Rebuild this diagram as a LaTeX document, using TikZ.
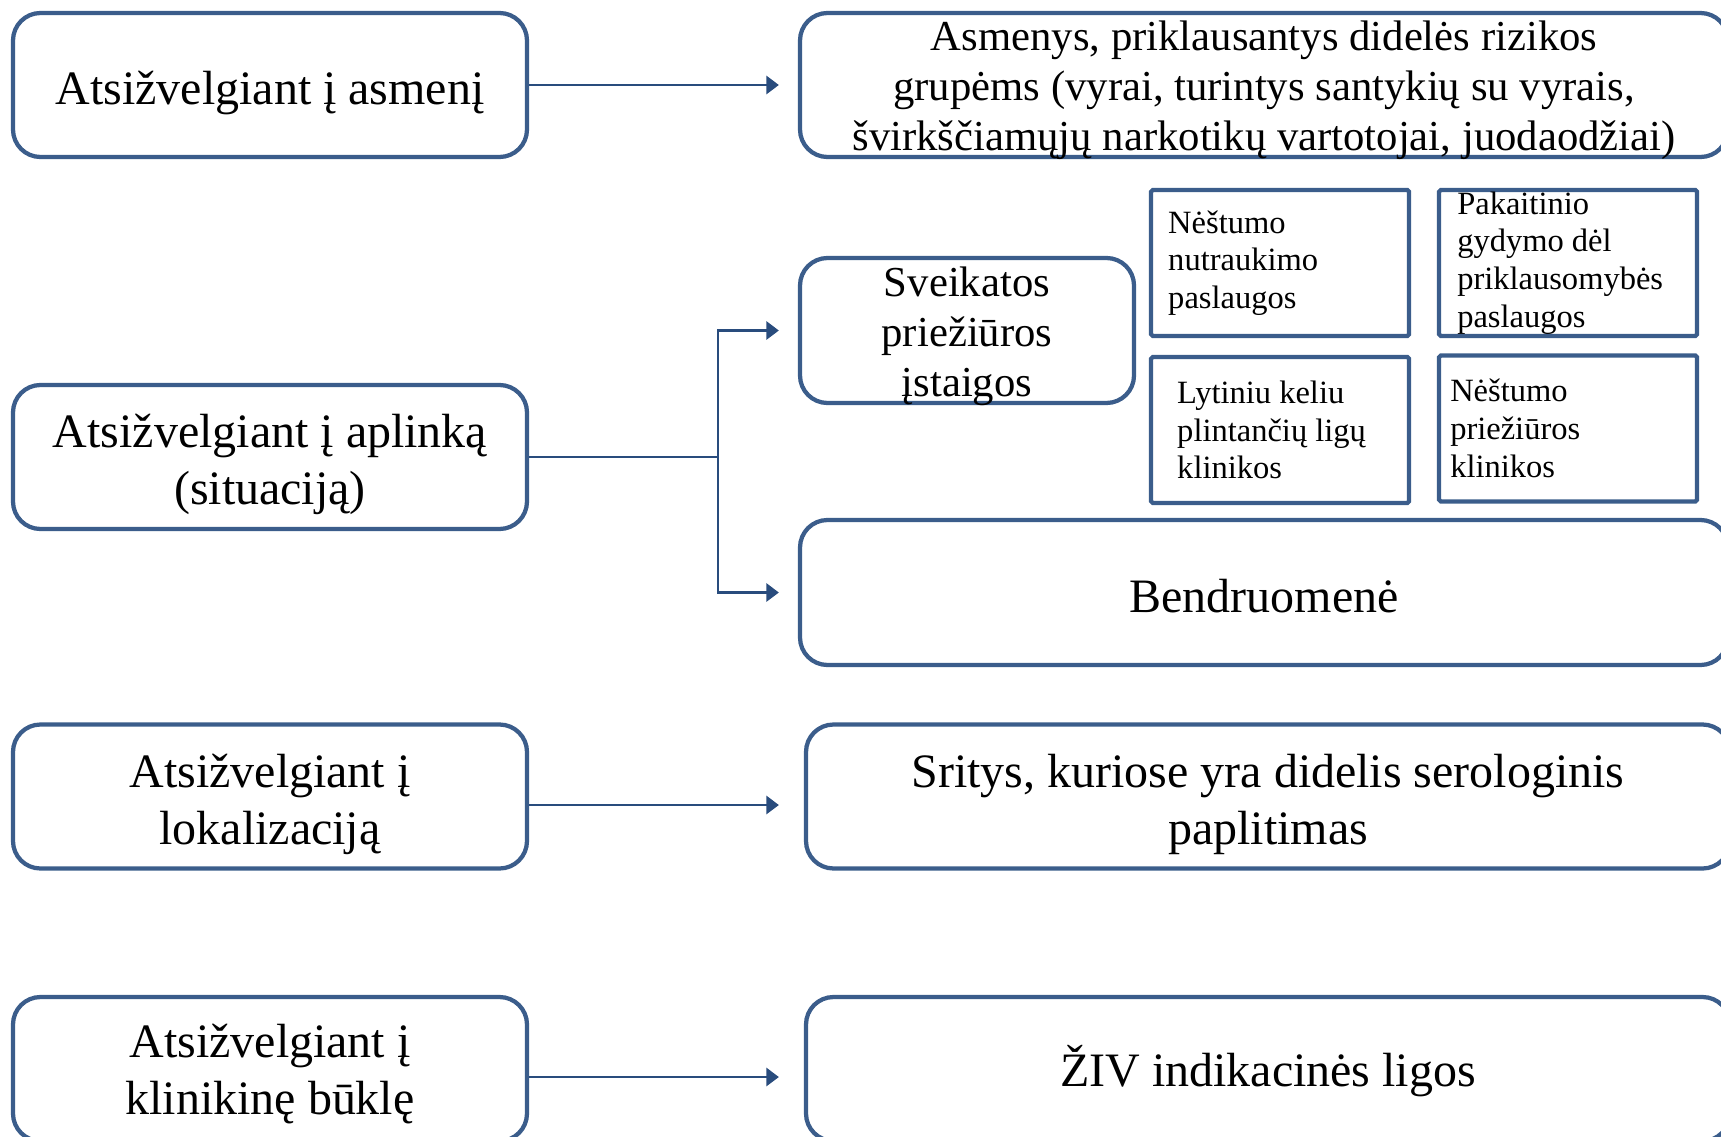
\documentclass[tikz,border=0pt]{standalone}
\usepackage{fontspec}
\setmainfont{Liberation Serif}
\usetikzlibrary{arrows.meta,positioning}
\definecolor{steel}{RGB}{59,93,139}
\definecolor{steeldark}{RGB}{41,76,125}
\newcommand{\strutto}[1]{\rule{0pt}{#1}}
\tikzset{
  >={Triangle[length=2.5mm,width=3.6mm]},
  big box/.style={draw=steel,line width=0.085cm,rounded corners=0.55cm,
    minimum height=2.88cm,minimum width=#1,align=center,
    font=\fontsize{27.3}{32.4}\selectfont},
  big box/.default=10.28cm,
  fit text/.style={align=center,inner sep=0pt,font=\fontsize{24.3}{28.4}\selectfont},
  small box/.style={draw=steel,line width=0.085cm,rounded corners=1pt,
    minimum width=5.16cm,minimum height=2.92cm},
  small text/.style={anchor=west,align=left,inner sep=0pt,
    font=\fontsize{18.5}{21.5}\selectfont},
  flow/.style={->,line width=0.055cm,draw=steeldark,shorten >=#1},
  flow/.default=0.38cm,
  trunk/.style={line width=0.055cm,draw=steeldark},
}

\begin{document}
\begin{tikzpicture}
  \clip (0,0) rectangle (34.42,-22.72);
  % left column
  \node[big box] (asmeni) at (5.4,-1.7) {\strutto{0.97cm}Atsižvelgiant į asmenį};
  \node[big box] (aplinka) at (5.4,-9.14) {\strutto{0.97cm}Atsižvelgiant į aplinką\\(situaciją)};
  \node[big box] (lokal) at (5.4,-15.93) {\strutto{0.97cm}Atsižvelgiant į\\lokalizaciją};
  \node[big box] (klinik) at (5.4,-21.38) {\strutto{0.88cm}Atsižvelgiant į\\klinikinę būklę};
  % right column
  \node[big box=18.56cm] (grupes) at (25.28,-1.7) {};
  \node[fit text] (grupest) at ([yshift=-0.1cm]grupes.center)
    {Asmenys, priklausantys didelės rizikos\\grupėms (vyrai, turintys santykių su vyrais,\\švirkščiamųjų narkotikų vartotojai, juodaodžiai)};
  \node[big box=6.68cm,minimum height=2.9cm] (istaigos) at (19.34,-6.61) {};
  \node[fit text] (istaigost) at ([yshift=-0.12cm]istaigos.center) {Sveikatos\\priežiūros\\įstaigos};
  \node[big box=18.56cm,minimum height=2.9cm] (bendr) at (25.28,-11.85) {\strutto{0.79cm}Bendruomenė};
  \node[big box=18.48cm] (sritys) at (25.36,-15.93) {\strutto{0.97cm}Sritys, kuriose yra didelis serologinis\\paplitimas};
  \node[big box=18.48cm] (indik) at (25.36,-21.38) {\strutto{0.92cm}ŽIV indikacinės ligos};
  % services
  \node[small box] (nutr) at (25.6,-5.26) {};
  \node[small box] (pakait) at (31.36,-5.26) {};
  \node[small box] (lyt) at (25.6,-8.6) {};
  \node[small box] (prie) at (31.36,-8.57) {};
  \node[small text] (nutrt) at ([xshift=0.38cm]nutr.west) {Nėštumo\\nutraukimo\\paslaugos};
  \node[small text] (pakaitt) at ([xshift=0.4cm]pakait.west) {Pakaitinio\\gydymo dėl\\priklausomybės\\paslaugos};
  \node[small text] (lytt) at ([xshift=0.56cm]lyt.west) {Lytiniu keliu\\plintančių ligų\\klinikos};
  \node[small text] (priet) at ([xshift=0.26cm]prie.west) {Nėštumo\\priežiūros\\klinikos};
  % connectors
  \coordinate (split) at (14.36,-9.14);
  \draw[flow] (asmeni.east) -- (grupes.west);
  \draw[trunk] (aplinka.east) -- (split);
  \draw[flow] (split) |- (istaigos.west);
  \draw[flow] (split) |- (bendr.west);
  \draw[flow=0.5cm] ([yshift=-0.17cm]lokal.east) -- ([yshift=-0.17cm]sritys.west);
  \draw[flow=0.5cm] ([yshift=-0.16cm]klinik.east) -- ([yshift=-0.16cm]indik.west);
\end{tikzpicture}
\end{document}
